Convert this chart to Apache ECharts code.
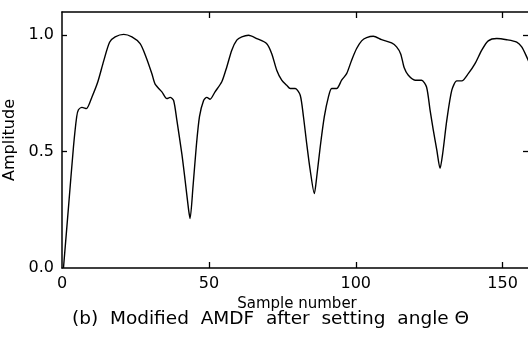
<!DOCTYPE html>
<html>
<head>
<meta charset="utf-8">
<script src="https://cdn.jsdelivr.net/npm/echarts@6/dist/echarts.min.js"></script>
<style>
html,body{margin:0;padding:0;background:#fff;}
#chart{width:528px;height:339px;}
</style>
</head>
<body>
<div id="chart"></div>
<script>
// ---- data ----
var sampleNumbers = [0.5,2.2,3.9,5.0,5.6,6.8,8.3,10.2,12.2,14.2,16.2,18.1,21.0,23.8,26.6,28.6,30.6,31.7,34.0,35.7,36.8,38.0,39.1,40.8,41.9,43.1,43.6,44.6,45.7,46.8,48.2,49.3,50.4,52.1,54.4,56.1,57.8,59.5,61.2,63.5,66.3,69.7,71.4,73.1,74.8,76.5,77.7,79.4,81.1,82.2,83.3,84.5,85.9,86.7,87.9,89.3,90.7,91.8,93.5,95.2,96.9,98.6,100.3,102.0,103.7,106.0,108.8,112.2,113.9,115.3,116.5,117.9,120.2,122.4,124.1,125.3,126.4,127.6,128.7,129.6,131.0,132.7,134.4,136.1,138.3,140.6,142.9,145.1,148.0,151.4,154.8,156.5,158.2,159.8];
var amplitudes = [0.00,0.26,0.52,0.65,0.68,0.69,0.685,0.735,0.80,0.89,0.97,0.993,1.004,0.993,0.964,0.907,0.835,0.79,0.757,0.728,0.733,0.72,0.635,0.49,0.378,0.25,0.213,0.35,0.52,0.65,0.72,0.733,0.725,0.757,0.80,0.864,0.936,0.979,0.993,1.0,0.986,0.964,0.921,0.85,0.807,0.785,0.771,0.771,0.742,0.65,0.535,0.42,0.32,0.39,0.52,0.65,0.735,0.771,0.771,0.807,0.835,0.893,0.943,0.976,0.99,0.996,0.981,0.967,0.95,0.92,0.86,0.828,0.807,0.807,0.778,0.678,0.592,0.506,0.428,0.492,0.635,0.764,0.804,0.804,0.835,0.878,0.936,0.976,0.986,0.981,0.971,0.95,0.907,0.86];
var xTickValues = [0, 50, 100, 150];
var yTickValues = [0.0, 0.5, 1.0];
var xName = 'Sample number';
var yName = 'Amplitude';
var caption = '(b)  Modified  AMDF  after  setting  angle \u0398';

var FONT = 'DejaVu Sans';
var pairs = sampleNumbers.map(function (x, i) { return [x, amplitudes[i]]; });

function isTick(list, v) {
  for (var i = 0; i < list.length; i++) if (Math.abs(list[i] - v) < 1e-6) return true;
  return false;
}

var chart = echarts.init(document.getElementById('chart'), null, {renderer: 'canvas'});
var axisLineStyle = {color: '#000', width: 1.5};
chart.setOption({
  animation: false,
  backgroundColor: '#fff',
  title: {
    text: caption,
    left: 72,
    top: 310,
    padding: 0,
    textStyle: {fontFamily: FONT, fontSize: 18.5, fontWeight: 'normal', color: '#000'}
  },
  grid: {left: 62, top: 12, width: 470, height: 256, containLabel: false, outerBoundsMode: 'none'},
  xAxis: [{
    type: 'value', min: 0, max: 160, interval: 50, position: 'bottom',
    name: xName, nameLocation: 'middle', nameGap: 18,
    nameTextStyle: {fontFamily: FONT, fontSize: 15, color: '#000'},
    axisLine: {show: true, onZero: false, lineStyle: axisLineStyle},
    axisTick: {show: true, inside: true, length: 6, lineStyle: {color: '#000', width: 1.3},
      customValues: xTickValues.slice(1)},
    axisLabel: {fontFamily: FONT, fontSize: 16, color: '#000', margin: 8,
      customValues: xTickValues,
      formatter: function (v) { return isTick(xTickValues, v) ? String(v) : ''; }},
    splitLine: {show: false}
  }, {
    type: 'value', min: 0, max: 160, interval: 50, position: 'top',
    axisLine: {show: true, onZero: false, lineStyle: axisLineStyle},
    axisTick: {show: true, inside: true, length: 6, lineStyle: {color: '#000', width: 1.3},
      customValues: xTickValues.slice(1)},
    axisLabel: {show: false},
    splitLine: {show: false}
  }],
  yAxis: [{
    type: 'value', min: 0, max: 1.1, interval: 0.5, position: 'left',
    name: yName, nameLocation: 'middle', nameGap: 43, nameRotate: 90,
    nameTextStyle: {fontFamily: FONT, fontSize: 16, color: '#000'},
    axisLine: {show: true, onZero: false, lineStyle: axisLineStyle},
    axisTick: {show: true, inside: true, length: 5, lineStyle: {color: '#000', width: 1.3},
      customValues: yTickValues.slice(1)},
    axisLabel: {fontFamily: FONT, fontSize: 16, color: '#000', margin: 8,
      customValues: yTickValues,
      formatter: function (v) { return isTick(yTickValues, v) ? v.toFixed(1) : ''; }},
    splitLine: {show: false}
  }, {
    type: 'value', min: 0, max: 1.1, interval: 0.5, position: 'right',
    axisLine: {show: true, onZero: false, lineStyle: axisLineStyle},
    axisTick: {show: true, inside: true, length: 9, lineStyle: {color: '#000', width: 1.3},
      customValues: yTickValues.slice(1)},
    axisLabel: {show: false},
    splitLine: {show: false}
  }],
  series: [{
    type: 'line',
    data: pairs,
    xAxisIndex: 0, yAxisIndex: 0,
    showSymbol: false,
    smooth: 0.25,
    lineStyle: {color: '#000', width: 1.4},
    clip: true
  }]
});
</script>
</body>
</html>
